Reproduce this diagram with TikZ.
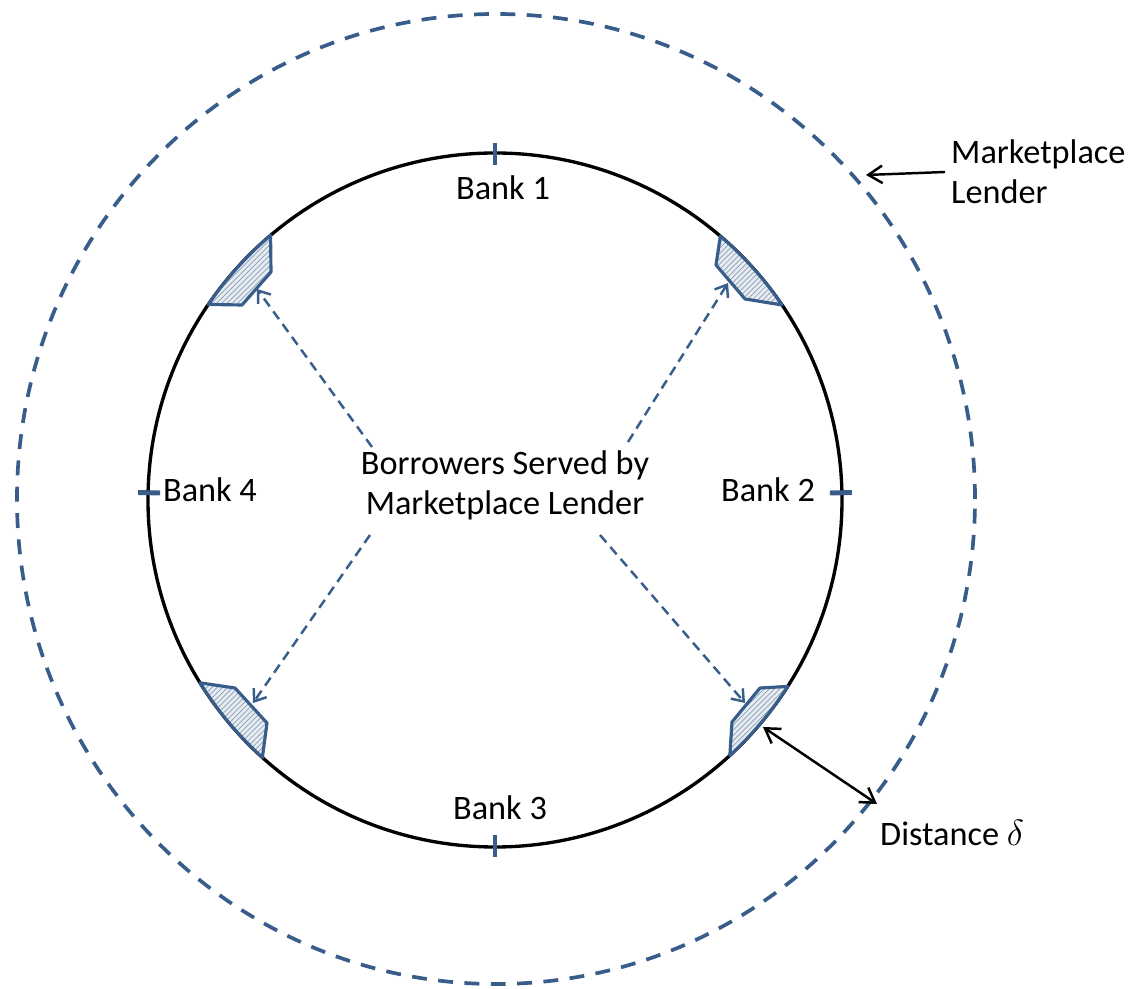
\documentclass[tikz,border=0pt]{standalone}
\usepackage{fontspec}
\setmainfont{Carlito}
\usetikzlibrary{arrows.meta,patterns}
\definecolor{lenderblue}{RGB}{56,93,138}

\begin{document}
\begin{tikzpicture}[x=0.02cm, y=0.02cm, line join=round]
    \tikzstyle{every node}=[font=\fontsize{19.5}{22.8}\selectfont]
    \tikzstyle{bank tick}=[draw=lenderblue, line width=2.8pt]
    \tikzstyle{lender ring}=[draw=lenderblue, line width=2.1pt, dash pattern=on 8.5pt off 6.5pt]
    \tikzstyle{niche}=[draw=lenderblue, line width=1.8pt, preaction={fill=lenderblue!12},
        pattern=north east lines, pattern color=lenderblue!60]
    \tikzstyle{reach}=[draw=lenderblue, line width=1.4pt, dash pattern=on 5.5pt off 3.5pt, -{Straight Barb[length=6pt,width=9pt]}]
    \tikzstyle{pointer}=[draw=black, line width=1.4pt]

    \useasboundingbox (-495,-489) rectangle (643,500);

    % Draw the ring of banks and the marketplace lender around it
    \draw[line width=1.9pt] (0,0) circle (347);
    \draw[lender ring] (1,1) ellipse (479 and 485);

    % Bank positions on the ring
    \foreach \name / \ang in {1/90,2/1.2,3/270,4/178.8}
        \draw[bank tick] (\ang:335) -- (\ang:357);
    \foreach \name / \x / \y in {1/8/312, 2/273/10, 3/5/-308, 4/-285/10}
        \node (B-\name) at (\x,\y) {Bank \name};

    % Borrowers in between the banks
    \foreach \name / \a / \xa / \ya / \xb / \yb / \b in {1/130.3/-224/228/-253/195/145.7,
        2/49.5/221/235/250/201/34.2, 3/211.8/-260/-188/-228/-223/227.9,
        4/-32.5/265/-188/237/-222/-47.4}
        \draw[niche] (\a:347) -- (\xa,\ya) -- (\xb,\yb) -- (\b:347)
            arc[start angle=\b, end angle=\a, radius=347] -- cycle;

    \node[align=center] (brw) at (10,15) {Borrowers Served by\\Marketplace Lender};

    % Connect the text with every group of borrowers
    \foreach \name / \tx / \ty / \hx / \hy in {1/-123/53/-238/211, 2/133/58/233/217,
        3/-125/-35/-242/-203, 4/105/-35/250/-203}
    {
        \coordinate (T-\name) at (\tx,\ty);
        \coordinate (N-\name) at (\hx,\hy);
        \draw[reach] (T-\name) -- (N-\name);
    }

    % Annotate the lender and the distance
    \node[align=left, anchor=west] (ml) at (450,328) {Marketplace\\Lender};
    \coordinate (ML-tip) at (371,325);
    \draw[pointer, -{Straight Barb[length=8pt,width=10pt]}] (ml.west) -- (ML-tip);

    \node[anchor=west] (dist) at (379,-333) {Distance $\delta$};
    \coordinate (D-in) at (268,-227);
    \coordinate (D-out) at (382,-304);
    \draw[pointer, {Straight Barb[length=8pt,width=10pt]}-{Straight Barb[length=8pt,width=10pt]}] (D-in) -- (D-out);

\end{tikzpicture}
\end{document}
